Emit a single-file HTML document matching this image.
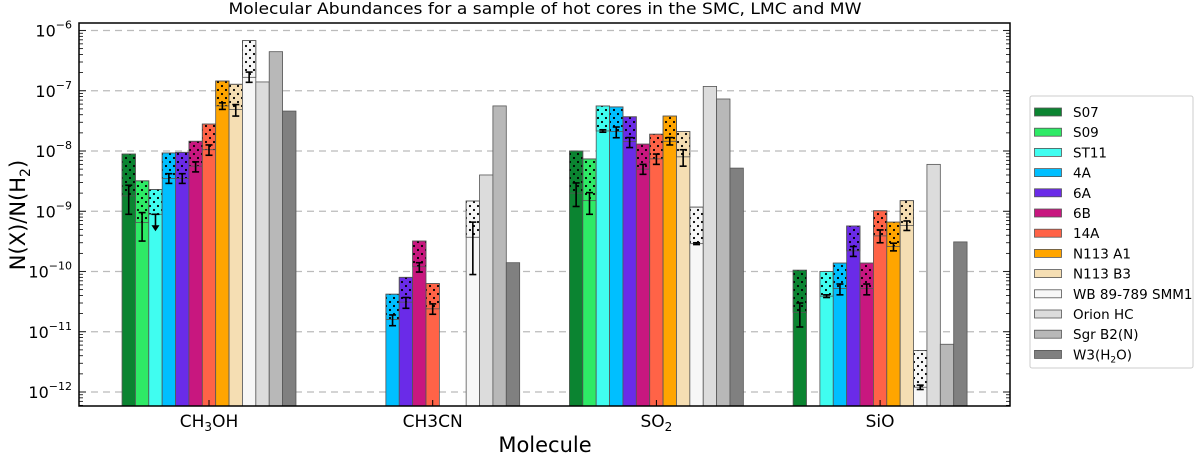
<!DOCTYPE html>
<html><head><meta charset="utf-8"><style>
html,body{margin:0;padding:0;background:#fff;}
svg{display:block;font-family:"DejaVu Sans","Liberation Sans",sans-serif;}
</style></head><body>
<svg id="chart" width="1200" height="456" viewBox="0 0 1200 456">
<defs>
<pattern id="dots" width="8" height="8" patternUnits="userSpaceOnUse">
<circle cx="2" cy="2" r="1.1" fill="#000"/><circle cx="6" cy="6" r="1.1" fill="#000"/>
</pattern>
</defs>
<text x="545" y="14" font-size="16" text-anchor="middle" textLength="633" lengthAdjust="spacingAndGlyphs">Molecular Abundances for a sample of hot cores in the SMC, LMC and MW</text>
<g id="grid"></g>
<g id="bars"></g>
<g id="axes"></g>
<text x="545" y="452" font-size="21" text-anchor="middle">Molecule</text>
<text transform="translate(25,215) rotate(-90)" font-size="21" text-anchor="middle">N(X)/N(H<tspan font-size="14" dy="5">2</tspan><tspan dy="-5">)</tspan></text>
<g id="legend"></g>
</svg>
<script>
const molecules = ["CH3OH","CH3CN","SO2","SiO"];
const seriesNames = ["S07","S09","ST11","4A","6A","6B","14A","N113 A1","N113 B3","WB 89-789 SMM1","Orion HC","Sgr B2(N)","W3(H2O)"];
const seriesColors = ["#0b8431","#2eea66","#40fdf0","#00bfff","#6a2be8","#c8177f","#ff6347","#ffa500","#f5deb3","#f7f7f7","#dcdcdc","#b8b8b8","#808080"];
const topVals = [
 [8.9e-9,null,1.0e-8,1.05e-10],
 [3.2e-9,null,7.4e-9,null],
 [2.3e-9,null,5.6e-8,1.0e-10],
 [9.3e-9,4.2e-11,5.4e-8,1.38e-10],
 [9.5e-9,8.0e-11,3.7e-8,5.7e-10],
 [1.45e-8,3.2e-10,1.3e-8,1.38e-10],
 [2.8e-8,6.3e-11,1.9e-8,1.02e-9],
 [1.45e-7,null,3.8e-8,6.6e-10],
 [1.28e-7,null,2.1e-8,1.5e-9],
 [6.8e-7,1.48e-9,1.17e-9,4.9e-12],
 [1.4e-7,4.0e-9,1.18e-7,6.0e-9],
 [4.45e-7,5.6e-8,7.3e-8,6.2e-12],
 [4.6e-8,1.4e-10,5.2e-9,3.1e-10]];
const lowVals = [
 [1.8e-9,null,2.0e-9,2.1e-11],
 [6.5e-10,null,1.5e-9,null],
 [8.9e-10,null,2.15e-8,3.9e-11],
 [3.5e-9,1.6e-11,2.1e-8,5.2e-11],
 [3.5e-9,3.1e-11,1.43e-8,2.2e-10],
 [5.6e-9,1.2e-10,5.0e-9,5.2e-11],
 [1.05e-8,2.4e-11,7.4e-9,3.9e-10],
 [5.6e-8,null,1.45e-8,2.6e-10],
 [4.9e-8,null,8.0e-9,5.8e-10],
 [1.67e-7,3.7e-10,2.9e-10,1.2e-12],
 [null,null,null,null],[null,null,null,null],[null,null,null,null]];
const errHi = [
 [2.7e-9,null,2.95e-9,3.0e-11],
 [9.5e-10,null,2.04e-9,null],
 [8.9e-10,null,2.25e-8,4.1e-11],
 [4.2e-9,1.9e-11,2.5e-8,6.2e-11],
 [4.2e-9,3.7e-11,1.67e-8,2.6e-10],
 [6.6e-9,1.4e-10,6.0e-9,6.2e-11],
 [1.26e-8,2.9e-11,8.9e-9,4.9e-10],
 [6.3e-8,null,1.67e-8,2.95e-10],
 [5.9e-8,null,1.05e-8,6.9e-10],
 [2.04e-7,6.6e-10,3.0e-10,1.3e-12]];
const errLo = [
 [8.9e-10,null,1.2e-9,1.2e-11],
 [3.2e-10,null,8.9e-10,null],
 [null,null,2.05e-8,3.7e-11],
 [2.9e-9,1.26e-11,1.66e-8,4.1e-11],
 [2.9e-9,2.45e-11,1.14e-8,1.78e-10],
 [4.5e-9,9.8e-11,4.1e-9,4.1e-11],
 [8.5e-9,1.95e-11,6.0e-9,3.0e-10],
 [4.9e-8,null,1.26e-8,2.2e-10],
 [3.8e-8,null,5.6e-9,4.8e-10],
 [1.38e-7,8.9e-11,2.8e-10,1.1e-12]];
const yTickExps = [-6,-7,-8,-9,-10,-11,-12];

const NS="http://www.w3.org/2000/svg";
const L=79,R=1010,T=23,B=406;
const y=v=>30.5+(-6-Math.log10(v))*60.25;
const barW=13.38;
const xc=i=>209+i*223.7;
const xBar=(m,s)=>xc(m)-6.5*barW+s*barW;
function el(tag,attrs,parent){const e=document.createElementNS(NS,tag);for(const k in attrs)e.setAttribute(k,attrs[k]);parent.appendChild(e);return e;}
const grid=document.getElementById('grid'),bars=document.getElementById('bars'),axes=document.getElementById('axes'),legend=document.getElementById('legend');

yTickExps.forEach(e=>{
 const yy=y(Math.pow(10,e));
 const g=el('line',{x1:L,x2:R,y1:yy,y2:yy,stroke:'#bbb','stroke-width':1.2,'stroke-dasharray':'7,5'},grid);
 
 
});

molecules.forEach((mol,m)=>{
 seriesNames.forEach((sn,s)=>{
  const top=topVals[s][m]; if(top==null) return;
  const x0=xBar(m,s);
  const r=el('rect',{x:x0,y:y(top),width:barW,height:B-y(top),fill:seriesColors[s],stroke:'#555','stroke-width':0.8},bars);
  
  
  const low=lowVals[s]?lowVals[s][m]:null;
  if(low!=null){
   const p=el('rect',{x:x0,y:y(top),width:barW,height:y(low)-y(top),fill:'url(#dots)',stroke:'#555','stroke-width':0.8},bars);
   
   
   const hi=errHi[s][m], lo=errLo[s][m], cx=x0+barW/2;
   if(lo==null){
    const a=el('line',{x1:cx,x2:cx,y1:y(hi),y2:y(hi)+12,stroke:'#000','stroke-width':1.6},bars);
    
    
    el('line',{x1:cx-4,x2:cx+4,y1:y(hi),y2:y(hi),stroke:'#000','stroke-width':1.6},bars);
    el('polygon',{points:`${cx-4},${y(hi)+11} ${cx+4},${y(hi)+11} ${cx},${y(hi)+17}`,fill:'#000'},bars);
   } else {
    const e1=el('line',{x1:cx,x2:cx,y1:y(hi),y2:y(lo),stroke:'#000','stroke-width':1.6},bars);
    
    
    el('line',{x1:cx-3.5,x2:cx+3.5,y1:y(hi),y2:y(hi),stroke:'#000','stroke-width':1.6},bars);
    el('line',{x1:cx-3.5,x2:cx+3.5,y1:y(lo),y2:y(lo),stroke:'#000','stroke-width':1.6},bars);
   }
  }
 });
});

const fr=el('rect',{x:L,y:T,width:R-L,height:B-T,fill:'none',stroke:'#000','stroke-width':1.5},axes);


for(let e=-5;e>=-13;e--){
 for(let k=1;k<10;k++){
  const v=k*Math.pow(10,e); const yy=y(v);
  if(yy<T||yy>B) continue;
  const len=k===1?7:4;
  el('line',{x1:L,x2:L+len,y1:yy,y2:yy,stroke:'#000','stroke-width':0.8},axes);
  el('line',{x1:R,x2:R-len,y1:yy,y2:yy,stroke:'#000','stroke-width':0.8},axes);
 }
}
yTickExps.forEach(e=>{
 const yy=y(Math.pow(10,e));
 const t=el('text',{x:72,y:yy+6,'font-size':16,'text-anchor':'end'},axes);
 
 
 t.innerHTML='10<tspan font-size="11" dy="-8">\u2212'+(-e)+'</tspan>';
});
const xLabels=['CH<tspan font-size="12" dy="4">3</tspan><tspan dy="-4">OH</tspan>','CH3CN','SO<tspan font-size="12" dy="4">2</tspan>','SiO'];
molecules.forEach((mol,m)=>{
 el('line',{x1:xc(m),x2:xc(m),y1:B,y2:B-6,stroke:'#000','stroke-width':1},axes);
 const t=el('text',{x:xc(m),y:427,'font-size':17,'text-anchor':'middle'},axes);
 
 
 t.innerHTML=xLabels[m];
});

const lb=el('rect',{x:1030,y:96,width:163,height:272,fill:'#fff',stroke:'#ccc','stroke-width':1,rx:2},legend);


seriesNames.forEach((sn,s)=>{
 const yy=112+s*20.2;
 const p=el('rect',{x:1034.5,y:yy-4,width:27,height:8,fill:seriesColors[s],stroke:'#555','stroke-width':0.8},legend);
 
 
 const t=el('text',{x:1073,y:yy+5,'font-size':13.5},legend);
 
 
 t.innerHTML= sn==='W3(H2O)'?'W3(H<tspan font-size="9" dy="3">2</tspan><tspan dy="-3">O)</tspan>':sn;
});
</script>
</body></html>
